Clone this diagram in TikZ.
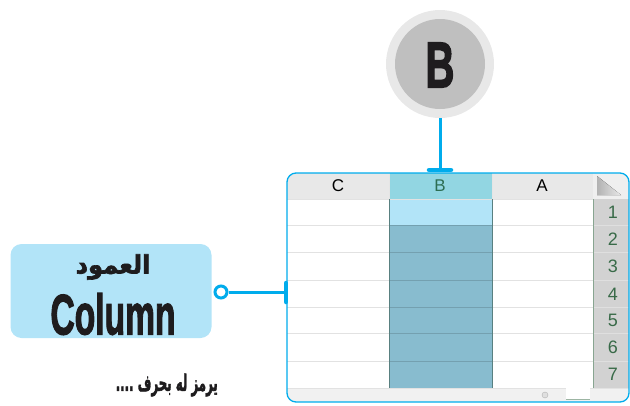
\documentclass[tikz,border=0pt]{standalone}
\usepackage{fontspec}
\usepackage{graphicx}
\setmainfont{Liberation Sans}
\newfontfamily\arabicfont[Script=Arabic,FakeBold=2.5]{DejaVu Sans Bold}
\newfontfamily\boldsans[FakeBold=2.5]{Liberation Sans Bold}
\TeXXeTstate=1
\definecolor{linkblue}{RGB}{0,172,236}
\definecolor{boxblue}{RGB}{178,228,248}
\definecolor{colfill}{RGB}{136,188,207}
\definecolor{colhead}{RGB}{146,214,226}
\definecolor{hdrgrey}{RGB}{232,232,232}
\definecolor{rowgrey}{RGB}{210,210,210}
\definecolor{gridgrey}{RGB}{226,226,226}
\definecolor{numgreen}{RGB}{56,106,72}
\definecolor{darktext}{RGB}{30,28,30}
\tikzset{
  link/.style={draw=linkblue,line width=3pt},
  tbar/.style={draw=linkblue,line width=4.5pt,line cap=round},
  hdrtxt/.style={font=\fontsize{17}{17}\selectfont,inner sep=0pt},
  numtxt/.style={font=\fontsize{18}{18}\selectfont,text=numgreen,inner sep=0pt},
}
\begin{document}
\begin{tikzpicture}[x=1pt,y=-1pt]
\useasboundingbox (0,0) rectangle (630,405);
% --- spreadsheet ---
\begin{scope}
\clip[rounded corners=9pt] (287,173) rectangle (629,402);
\fill[white] (287,173) rectangle (629,402);
\fill[hdrgrey] (287,173) rectangle (593,199);
\fill[colhead] (389,173) rectangle (492,199);
\fill[rowgrey] (593,173) rectangle (629,388);
\fill[hdrgrey!70!white] (593,173) rectangle (629,199);
\fill[left color=rowgrey!60!black!60,right color=hdrgrey] (597,176) -- (597,195) -- (621,195) -- cycle;
\fill[colfill] (389,199) rectangle (492,388);
\fill[boxblue] (389,199) rectangle (492,225);
\foreach \y in {225,252,280,307,333,361}{
  \draw[gridgrey,line width=1pt] (287,\y) -- (389,\y);
  \draw[gridgrey,line width=1pt] (492,\y) -- (593,\y);
  \draw[colfill!85!black,line width=0.8pt] (389,\y) -- (492,\y);
  \draw[white!75!gray,line width=1pt] (593,\y) -- (629,\y);
}
\draw[gridgrey,line width=1pt] (287,199) -- (593,199);
\draw[numgreen!60!white,line width=1pt] (593,199) -- (593,388);
\draw[gray!70!teal,line width=1pt] (389,199) -- (389,388) (492,199) -- (492,388);
\draw[white!80!gray,line width=0.6pt] (389,173) -- (389,199) (492,173) -- (492,199);
\fill[hdrgrey!60!white] (287,388) rectangle (629,402);
\draw[gridgrey] (287,388) -- (629,388);
\draw[gray!60,fill=gray!25] (545,395) circle (3pt);
\fill[white] (566,388) rectangle (590,399);
\draw[numgreen!50!white,line width=0.8pt] (566,399) -- (590,399);
\end{scope}
\draw[linkblue,line width=1.3pt,rounded corners=9pt] (287,173) rectangle (629,402);
% header letters
\node[hdrtxt] (hc) at (338,186) {C};
\node[hdrtxt,text=numgreen!80!teal] (hb) at (440,186) {B};
\node[hdrtxt] (ha) at (542,186) {A};
\foreach \n/\y in {1/212,2/239,3/266,4/294,5/320,6/347,7/374}{
  \node[numtxt] (r\n) at (613,\y) {\n};
}
% --- B circle ---
\fill[gray!18] (440,64) circle (54);
\fill[gray!50] (440,64) circle (45);
\node[inner sep=0pt,text=darktext] (bcirc) at (440,65) {\scalebox{1.0}[1.62]{\boldsans\fontsize{40}{40}\selectfont B}};
\coordinate (btop) at (440,118);
\coordinate (bbot) at (440,170);
\draw[link] (btop) -- (bbot);
\draw[tbar] (429,170) -- (451,170);
% --- Column box ---
\node[draw=none,fill=boxblue,rounded corners=11pt,minimum width=201pt,minimum height=94pt,inner sep=0pt] (colbox) at (111,291) {};
\node[inner sep=0pt,text=darktext] (ar) at (113,267) {\scalebox{1.05}[1.1]{\arabicfont\fontsize{23}{23}\selectfont\beginR العمود\endR}};
\node[inner sep=0pt,text=darktext] (colw) at (113,314) {\scalebox{0.84}[1.42]{\boldsans\fontsize{40}{40}\selectfont Column}};
\node[circle,draw=linkblue,line width=3pt,fill=white,minimum size=12pt,inner sep=0pt] (oc) at (221,292) {};
\coordinate (tend) at (286,292);
\draw[link] (oc.east) -- (tend);
\draw[tbar] (286,283) -- (286,302);
% bottom text
\node[inner sep=0pt,anchor=east,text=darktext] (hint) at (218,385) {\scalebox{0.62}[1.2]{\arabicfont\fontsize{19}{19}\selectfont\beginR يرمز له بحرف \beginL....\endL\endR}};
\end{tikzpicture}
\end{document}
